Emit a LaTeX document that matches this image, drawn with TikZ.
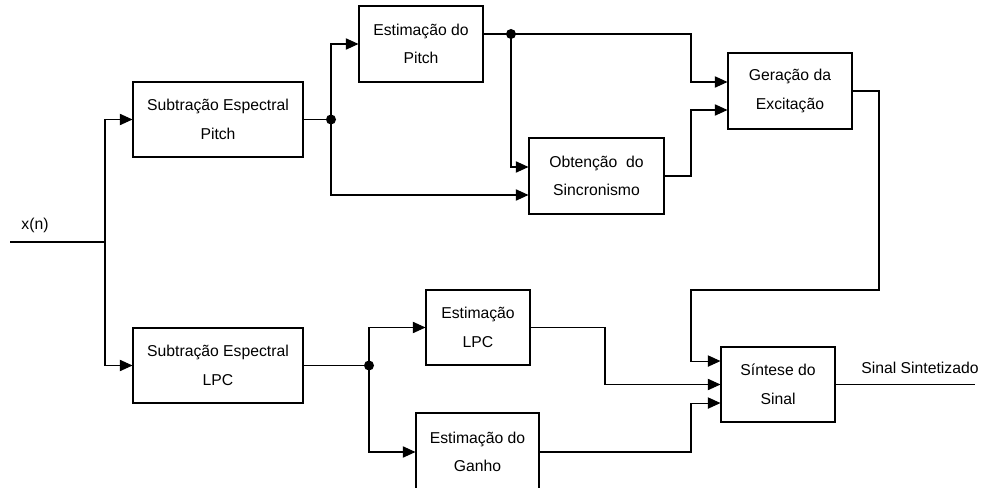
\documentclass[tikz,border=0pt]{standalone}
\usepackage{fontspec}
\setmainfont{Liberation Sans}
\usetikzlibrary{arrows.meta}
\usetikzlibrary{positioning}

\tikzset{
  blk/.style={draw,line width=0.8pt,rectangle,inner sep=0pt,align=center,font=\fontsize{11.8}{21.5}\selectfont},
  sig/.style={line width=0.8pt,-{Triangle[length=9.5pt,width=8.5pt]}},
  wire/.style={line width=0.8pt},
  jdot/.style={circle,fill=black,inner sep=0pt,minimum size=7.5pt},
  lbl/.style={font=\fontsize{11.8}{14}\selectfont},
}

\begin{document}
\begin{tikzpicture}[x=0.75pt,y=-0.75pt]
\useasboundingbox (0,0) rectangle (981,488);

\node[blk,minimum width=127.5pt,minimum height=56.25pt] (sep) at (218,119.5) {Subtração Espectral\\Pitch};
\node[blk,minimum width=127.5pt,minimum height=56.25pt] (sel) at (218,365.5) {Subtração Espectral\\LPC};
\node[blk,minimum width=93pt,minimum height=57pt] (ep) at (421,44) {Estimação do\\Pitch};
\node[blk,minimum width=101.25pt,minimum height=57pt] (os) at (596.5,176) {Obtenção\ \ do\\Sincronismo};
\node[blk,minimum width=93pt,minimum height=57pt] (ge) at (790,91) {Geração da\\Excitação};
\node[blk,minimum width=78pt,minimum height=56.25pt] (el) at (478,327.5) {Estimação\\LPC};
\node[blk,minimum width=92.25pt,minimum height=58.5pt] (eg) at (477.5,452) {Estimação do\\Ganho};
\node[blk,minimum width=85.5pt,minimum height=56.25pt] (ss) at (778,384.5) {Síntese do\\Sinal};

\node[jdot] (jsep) at (331,119.5) {};
\node[jdot] (jep) at (511,34) {};
\node[jdot] (jsel) at (369,365.5) {};
\coordinate (xin) at (10,242);
\coordinate (split) at (105,242);
\coordinate (out) at (975,384.5);

\node[lbl] (xlbl) at (35,225) {x(n)};
\node[lbl] (outlbl) at (920,368) {Sinal Sintetizado};

\draw[wire] (xin) -- (split);
\draw[sig] (split) |- (sep.west);
\draw[sig] (split) |- (sel.west);

\draw[wire] (sep.east) -- (jsep.center);
\draw[sig] (jsep.center) |- (ep.west);
\draw[sig] (jsep.center) |- ([yshift=-14.25pt]os.west);

\draw[wire] ([yshift=7.5pt]ep.east) -- (jep.center);
\draw[sig] (jep.center) -- (691,34) |- ([yshift=6.75pt]ge.west);
\draw[sig] (jep.center) |- ([yshift=6.75pt]os.west);
\draw[sig] (os.east) -- (691,176) |- ([yshift=-14.25pt]ge.west);

\draw[sig] (ge.east) -| (879,290) -- (691,290) |- ([yshift=17.6pt]ss.west);

\draw[wire] (sel.east) -- (jsel.center);
\draw[sig] (jsel.center) |- (el.west);
\draw[sig] (jsel.center) |- (eg.west);
\draw[sig] (el.east) -- (605,327.5) |- (ss.west);
\draw[sig] (eg.east) -- (691,452) |- ([yshift=-13.9pt]ss.west);

\draw[wire] (ss.east) -- (out);

\end{tikzpicture}
\end{document}
